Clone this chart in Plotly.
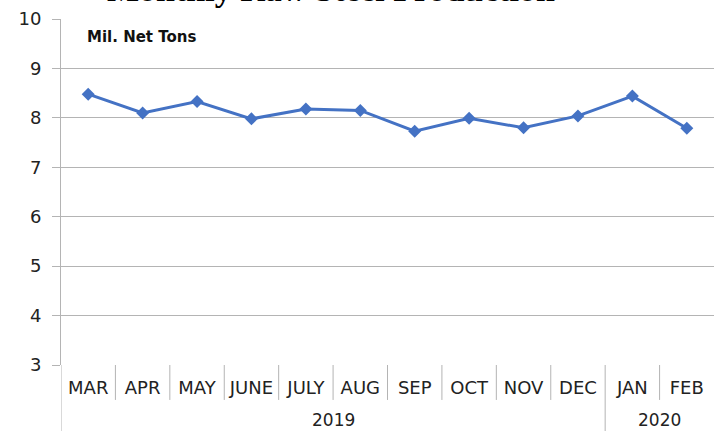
import plotly.graph_objects as go

months = ["MAR", "APR", "MAY", "JUNE", "JULY", "AUG", "SEP", "OCT", "NOV", "DEC", "JAN", "FEB"]
years = ["2019"] * 10 + ["2020"] * 2
production = [8.48, 8.10, 8.33, 7.98, 8.18, 8.15, 7.73, 7.99, 7.80, 8.04, 8.44, 7.79]
y_ticks = [3, 4, 5, 6, 7, 8, 9, 10]

xpos = [i + 0.5 for i in range(len(months))]
GRID = "#b4b4b4"
BLUE = "#4472C4"
FONT = "DejaVu Sans"
TXT = "#222222"

fig = go.Figure()
fig.add_trace(go.Scatter(
    x=xpos, y=production, mode="lines+markers",
    line=dict(color=BLUE, width=3),
    marker=dict(symbol="diamond", size=10, color=BLUE),
    hoverinfo="skip", showlegend=False,
))

shapes = []
for i in range(1, len(months)):
    if years[i] != years[i - 1]:
        continue
    shapes.append(dict(type="line", xref="x", yref="paper", x0=i, x1=i, y0=0, y1=-0.101,
                       line=dict(color=GRID, width=1)))
bounds = [0] + [i for i in range(1, len(months)) if years[i] != years[i - 1]]
for b in bounds:
    shapes.append(dict(type="line", xref="x", yref="paper", x0=b, x1=b, y0=0, y1=-0.2,
                       line=dict(color=GRID, width=1)))

annotations = []
groups = []
start = 0
for i in range(1, len(months) + 1):
    if i == len(months) or years[i] != years[i - 1]:
        groups.append((years[start], start, i))
        start = i
for name, s, e in groups:
    annotations.append(dict(text=name, x=(s + e) / 2, xref="x", y=-0.158, yref="paper",
                            showarrow=False, yanchor="middle",
                            font=dict(family=FONT, size=17, color=TXT)))
annotations.append(dict(text="<b>Monthly Raw Steel Production</b>", x=0.414, xref="paper",
                        y=1.084, yref="paper", showarrow=False, yanchor="middle",
                        font=dict(family="Liberation Serif", size=34, color="#000000")))
annotations.append(dict(text="<b>Mil. Net Tons</b>", x=0.036, xref="paper", y=0.948, yref="paper",
                        showarrow=False, xanchor="left", yanchor="middle",
                        font=dict(family=FONT, size=15, color="#111111")))

fig.update_layout(
    width=714, height=431,
    margin=dict(l=61, r=0, t=19, b=66, autoexpand=False),
    paper_bgcolor="white", plot_bgcolor="white",
    shapes=shapes, annotations=annotations,
    xaxis=dict(range=[0, len(months)], tickvals=xpos, ticktext=months,
               showgrid=False, zeroline=False, showline=False, ticks="",
               tickfont=dict(family=FONT, size=18, color=TXT),
               ticklabelstandoff=10, fixedrange=True, automargin=False),
    yaxis=dict(range=[3, 10], tickvals=y_ticks, showgrid=True, gridcolor=GRID, gridwidth=1,
               zeroline=False, showline=True, linecolor=GRID, linewidth=1,
               ticks="outside", ticklen=8, tickcolor=GRID,
               tickfont=dict(family=FONT, size=18, color=TXT),
               ticklabelstandoff=7, fixedrange=True, automargin=False),
)

fig.write_html("out.html", config={"displayModeBar": False},
               post_script="document.body.style.margin='0';document.body.style.overflow='hidden';")
